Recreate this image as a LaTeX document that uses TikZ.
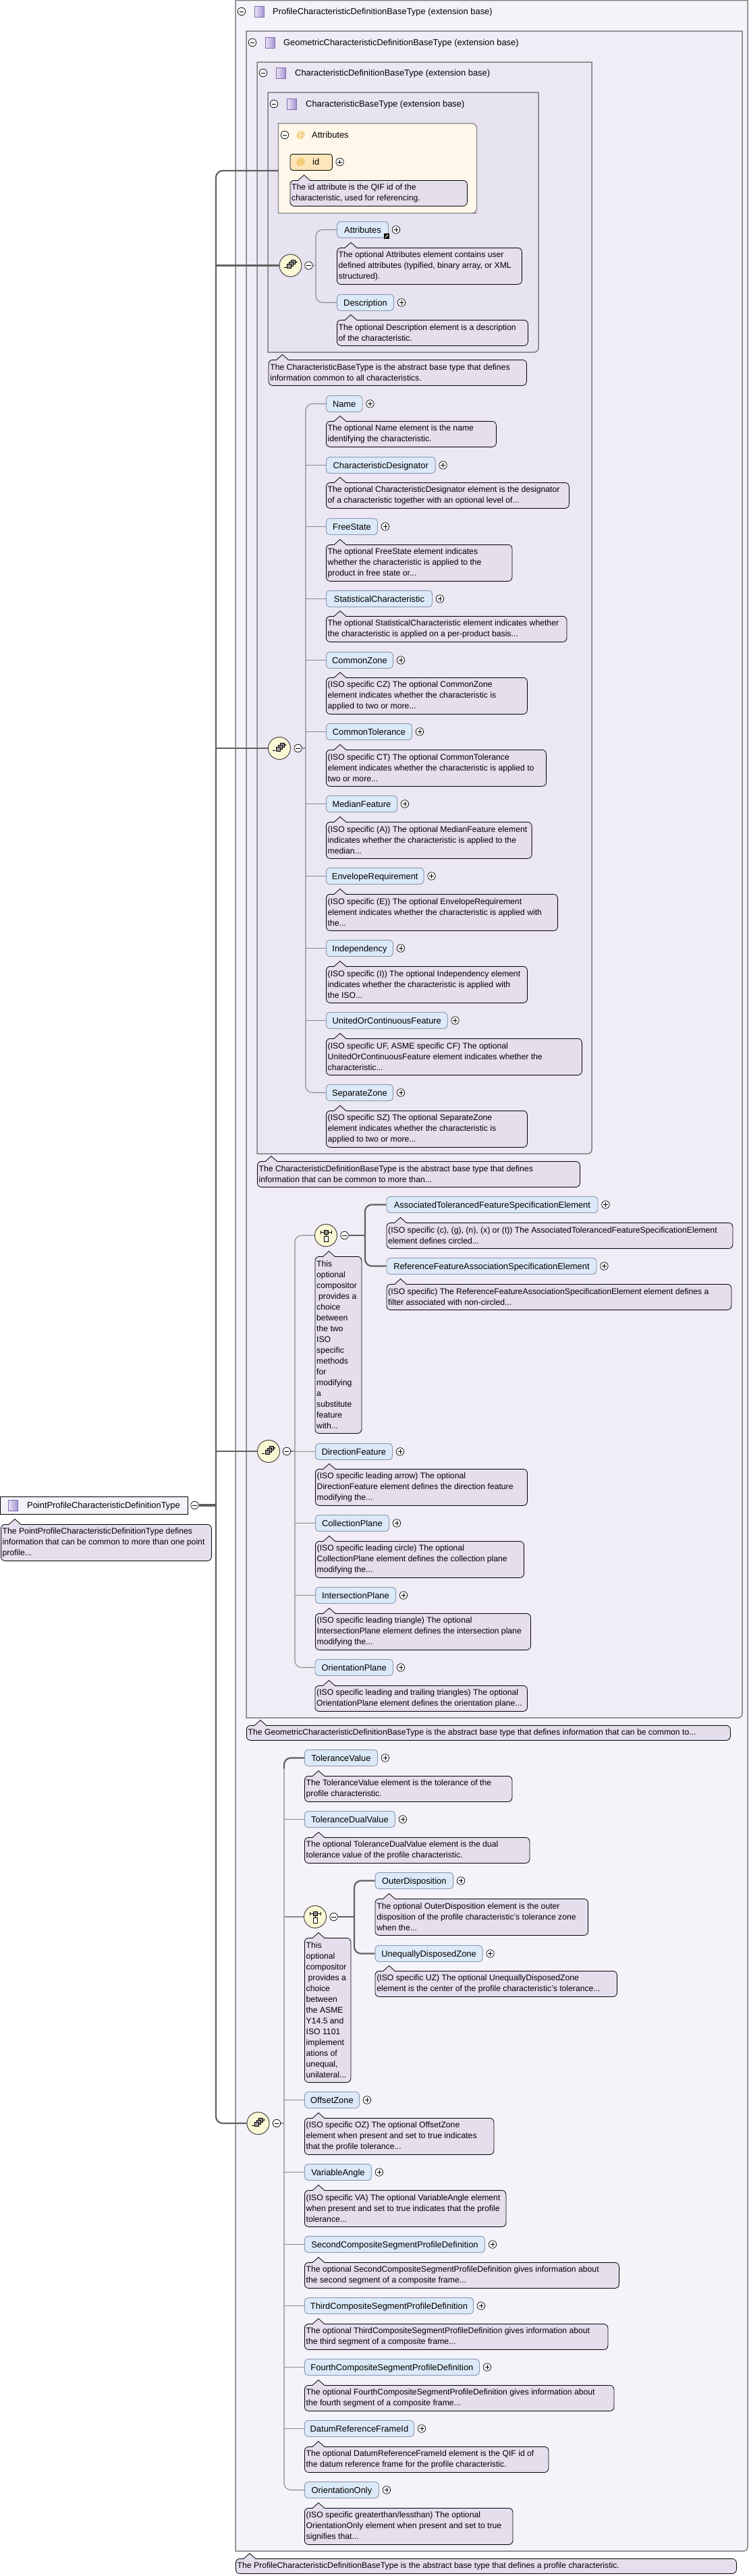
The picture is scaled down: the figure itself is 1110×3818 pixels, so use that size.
\documentclass[tikz,border=0pt]{standalone}
\usepackage{fontspec}
\setmainfont{Liberation Sans}
\usetikzlibrary{arrows.meta}
\definecolor{bgA}{HTML}{F5F3FA}
\definecolor{bgB}{HTML}{F0EDF7}
\definecolor{bgC}{HTML}{EBE7F3}
\definecolor{bgD}{HTML}{E7E3F0}
\definecolor{boxln}{HTML}{808080}
\definecolor{elfill}{HTML}{DCE9F8}
\definecolor{elln}{HTML}{8795AD}
\definecolor{docfill}{HTML}{E4DEED}
\definecolor{attrfill}{HTML}{FFF8EA}
\definecolor{idfill}{HTML}{FCE5B9}
\definecolor{atcol}{HTML}{E8A317}
\definecolor{compfill}{HTML}{FBF9D5}
\definecolor{compln}{HTML}{444444}
\definecolor{lnthin}{HTML}{8A8A8A}
\definecolor{lnthick}{HTML}{606060}
\definecolor{rootfill}{HTML}{F3F1F9}
\definecolor{icoL}{HTML}{EDE6F8}
\definecolor{icoR}{HTML}{A394D2}
\definecolor{icoln}{HTML}{7E6EAE}
\newcommand\nfont{\fontsize{12.9}{15}\selectfont}
\newcommand\dfont{\fontsize{12.2}{16}\selectfont}
\pgfdeclarelayer{bx}
\pgfdeclarelayer{ln}
\pgfsetlayers{bx,ln,main}
\tikzset{
 elem/.style={draw=elln, fill=elfill, line width=0.9pt, rounded corners=5pt, font=\nfont, inner xsep=0pt, inner ysep=0pt, minimum height=24pt, text height=9.2pt, text depth=0pt, anchor=north west},
 pls/.style={circle, draw=black, fill=white, line width=0.7pt, inner sep=0pt, minimum size=11.5pt,
   path picture={\draw[line width=0.8pt] ([xshift=-3.2pt]path picture bounding box.center) -- ([xshift=3.2pt]path picture bounding box.center) ([yshift=-3.2pt]path picture bounding box.center) -- ([yshift=3.2pt]path picture bounding box.center);}},
 mns/.style={circle, draw=black, fill=white, line width=0.7pt, inner sep=0pt, minimum size=11.5pt,
   path picture={\draw[line width=0.8pt] ([xshift=-3.2pt]path picture bounding box.center) -- ([xshift=3.2pt]path picture bounding box.center);}},
 docbox/.style={draw=black, fill=docfill, line width=0.8pt, rounded corners=6pt, inner sep=0pt, anchor=north west},
 doctext/.style={font=\dfont, align=left, inner sep=0pt, anchor=west},
 comp/.style={circle, draw=compln, fill=compfill, line width=1pt, minimum size=33pt, inner sep=0pt},
 hdr/.style={font=\nfont, anchor=west, inner sep=0pt, text height=9.2pt, text depth=0pt},
 hico/.style={draw=icoln, left color=icoL, right color=icoR, minimum width=14pt, minimum height=16pt, inner sep=0pt, line width=0.6pt},
 tbox/.style={draw=boxln, line width=1.5pt},
 lk/.style={draw=lnthin, line width=1.1pt},
 lkb/.style={draw=lnthick, line width=2.2pt},
}
\newcommand\elm[5]{\node[elem, minimum width=#4pt] (#1) at (#2,#3) {#5};
  \node[pls] (#1P) at ([xshift=11pt]#1.east) {};}
\newcommand\ptr[1]{\fill[docfill] ([xshift=12.5pt,yshift=-0.8pt]#1.north west) -- ([xshift=21pt,yshift=7.5pt]#1.north west) -- ([xshift=29.5pt,yshift=-0.8pt]#1.north west) -- cycle;
  \draw[line width=0.8pt] ([xshift=12.5pt]#1.north west) -- ([xshift=21pt,yshift=7.5pt]#1.north west) -- ([xshift=29.5pt]#1.north west);}
\newcommand\dc[6]{\pgfmathsetmacro\dmh{6+16*#5}%
  \node[docbox, minimum width=#4pt, minimum height=\dmh pt] (#1) at (#2,#3) {};
  \node[doctext] (#1t) at ([xshift=2.5pt,yshift=0.3pt]#1.west) {#6};
  \ptr{#1}}
\newcommand\tbx[5]{\filldraw[tbox, fill=#5] (#1,#2) -- (#3,#2) -- (#3,#4-8) [rounded corners=6pt] -- (#3,#4) -- (#1+8,#4) [sharp corners] -- (#1,#4) -- cycle;}
\newcommand\seqico[1]{\begin{scope}[shift={(#1.center)}, line width=0.6pt]
  \draw (-10,3) -- (-6,3);
  \draw[fill=black!40] (1,-8) rectangle (7,-2);
  \draw[fill=black!40] (-2,-5) rectangle (4,1);
  \draw[fill=black!40] (-5,-2) rectangle (1,4);
  \draw[-{Stealth[length=2.5pt,width=2.5pt]}] (7,-5) -- (10.5,-5);
 \end{scope}}
\newcommand\choico[1]{\begin{scope}[shift={(#1.center)}, line width=0.6pt]
  \draw (-8,-5) -- (8,-5); \draw (-8,-7.5) -- (-8,-2.5); \draw (8,-7.5) -- (8,-2.5);
  \draw[fill=black!45] (-3,-8) rectangle (3,-2);
  \draw (0,-2) -- (0,1.5);
  \draw[fill=white] (-3,1.5) rectangle (3,9);
 \end{scope}}
\begin{document}
\begin{tikzpicture}[x=1pt,y=-1pt]
\useasboundingbox (0,0) rectangle (1110,3818);
\begin{pgfonlayer}{bx}
\fill[white] (0,0) rectangle (1110,3818);
\tbx{349}{0.5}{1108}{3781}{bgA}
\tbx{365}{46}{1100}{2546}{bgB}
\tbx{381}{92}{877}{1710}{bgC}
\tbx{397}{137}{798}{522}{bgD}
\shade[left color=bgA, middle color=gray!65, right color=bgA] (351,32) rectangle (921,34.5);
\shade[left color=bgB, middle color=gray!65, right color=bgB] (367,78) rectangle (918,80.5);
\shade[left color=bgC, middle color=gray!65, right color=bgC] (383,124) rectangle (754,126.5);
\shade[left color=bgD, middle color=gray!65, right color=bgD] (399,170) rectangle (699,172.5);
\filldraw[draw=boxln, line width=1.2pt, fill=attrfill] (412.5,183) -- (699.6,183) [rounded corners=7pt] -- (706.6,183) -- (706.6,316) -- (699.6,316) [sharp corners] -- (412.5,316) -- cycle;
\shade[left color=attrfill, middle color=gray!55, right color=attrfill] (414,214) rectangle (632,216.5);
\end{pgfonlayer}
% headers
\node[mns] (h1m) at (358,17) {}; \node[hico] (h1i) at (384,17) {};
\node[hdr] (h1t) at (404,17) {ProfileCharacteristicDefinitionBaseType (extension base)};
\node[mns] (h2m) at (374,63) {}; \node[hico] (h2i) at (400,63) {};
\node[hdr] (h2t) at (420,63) {GeometricCharacteristicDefinitionBaseType (extension base)};
\node[mns] (h3m) at (390,108) {}; \node[hico] (h3i) at (416,108) {};
\node[hdr] (h3t) at (437,108) {CharacteristicDefinitionBaseType (extension base)};
\node[mns] (h4m) at (406,154) {}; \node[hico] (h4i) at (432,154) {};
\node[hdr] (h4t) at (453,154) {CharacteristicBaseType (extension base)};
% attribute group
\coordinate (agW) at (412.5,253);
\node[mns] (agm) at (422,200) {};
\node[hdr, text=atcol] (agat) at (439,200) {@};
\node[hdr] (agt) at (462,200) {Attributes};
\node[draw=black, fill=idfill, line width=0.8pt, rounded corners=4pt, minimum width=62.5pt, minimum height=24pt, anchor=north west, inner sep=0pt] (idN) at (429.5,228) {};
\node[hdr, text=atcol] (idat) at (439,240) {@};
\node[hdr] (idt) at (463,240) {id};
\node[pls] (idP) at (503.6,240) {};
\dc{idD}{429.5}{267}{262.5}{2}{The id attribute is the QIF id of the\\characteristic, used for referencing.}
% sequence 1
\node[comp] (s1) at (430.5,393.5) {}; \seqico{s1}
\node[mns] (s1m) at (457.5,393.5) {};
\elm{attrE}{499}{328}{76}{Attributes}
\node[draw=black, fill=black, line width=0.6pt, minimum size=7pt, inner sep=0pt] (attrRef) at (573,350) {};
\draw[white, line width=0.8pt, -{Stealth[length=2.5pt,width=2.5pt]}] ([shift={(-2.3pt,-2.3pt)}]attrRef.center) -- ([shift={(2.5pt,2.5pt)}]attrRef.center);
\dc{attrD}{499}{367}{274}{3}{The optional Attributes element contains user\\defined attributes (typified, binary array, or XML\\structured).}
\elm{descE}{499}{436}{84}{Description}
\dc{descD}{499}{474}{283}{2}{The optional Description element is a description\\of the characteristic.}
\dc{cbD}{397.6}{533}{382.4}{2}{The CharacteristicBaseType is the abstract base type that defines\\information common to all characteristics.}
% sequence 2
\node[comp] (s2) at (414,1109) {}; \seqico{s2}
\node[mns] (s2m) at (441.6,1109) {};
\elm{nmE}{483}{586}{53.5}{Name}
\dc{nmD}{483}{624}{252}{2}{The optional Name element is the name\\identifying the characteristic.}
\elm{cdE}{483}{677}{161.6}{CharacteristicDesignator}
\dc{cdD}{483}{715}{360}{2}{The optional CharacteristicDesignator element is the designator\\of a characteristic together with an optional level of...}
\elm{fsE}{483}{768}{76}{FreeState}
\dc{fsD}{483}{807}{275.5}{3}{The optional FreeState element indicates\\whether the characteristic is applied to the\\product in free state or...}
\elm{scE}{483}{875}{157}{StatisticalCharacteristic}
\dc{scD}{483}{913}{356.6}{2}{The optional StatisticalCharacteristic element indicates whether\\the characteristic is applied on a per-product basis...}
\elm{czE}{483}{966}{99}{CommonZone}
\dc{czD}{483}{1004}{298}{3}{(ISO specific CZ) The optional CommonZone\\element indicates whether the characteristic is\\applied to two or more...}
\elm{ctE}{483}{1072}{127}{CommonTolerance}
\dc{ctD}{483}{1111}{326}{3}{(ISO specific CT) The optional CommonTolerance\\element indicates whether the characteristic is applied to\\two or more...}
\elm{mfE}{483}{1179}{105}{MedianFeature}
\dc{mfD}{483}{1218}{304.7}{3}{(ISO specific (A)) The optional MedianFeature element\\indicates whether the characteristic is applied to the\\median...}
\elm{erE}{483}{1286}{144.6}{EnvelopeRequirement}
\dc{erD}{483}{1325}{343}{3}{(ISO specific (E)) The optional EnvelopeRequirement\\element indicates whether the characteristic is applied with\\the...}
\elm{inE}{483}{1393}{99}{Independency}
\dc{inD}{483}{1432}{298}{3}{(ISO specific (I)) The optional Independency element\\indicates whether the characteristic is applied with\\the ISO...}
\elm{ucE}{483}{1500}{179.6}{UnitedOrContinuousFeature}
\dc{ucD}{483}{1539}{379}{3}{(ISO specific UF, ASME specific CF) The optional\\UnitedOrContinuousFeature element indicates whether the\\characteristic...}
\elm{szE}{483}{1607}{99}{SeparateZone}
\dc{szD}{483}{1646}{298}{3}{(ISO specific SZ) The optional SeparateZone\\element indicates whether the characteristic is\\applied to two or more...}
\dc{cdfD}{381}{1721}{478}{2}{The CharacteristicDefinitionBaseType is the abstract base type that defines\\information that can be common to more than...}
% geometric: choice 1
\node[comp] (c1) at (483,1831) {}; \choico{c1}
\node[mns] (c1m) at (510.5,1831) {};
\dc{c1D}{466.5}{1862}{69}{16}{This\\optional\\compositor\\\hspace*{3pt}provides a\\choice\\between\\the two\\ISO\\specific\\methods\\for\\modifying\\a\\substitute\\feature\\with...}
\elm{atE}{572.5}{1773}{313}{AssociatedTolerancedFeatureSpecificationElement}
\dc{atD}{572.5}{1812}{513}{2}{(ISO specific (c), (g), (n), (x) or (t)) The AssociatedTolerancedFeatureSpecificationElement\\element defines circled...}
\elm{rfE}{572.5}{1864}{311}{ReferenceFeatureAssociationSpecificationElement}
\dc{rfD}{572.5}{1903}{511}{2}{(ISO specific) The ReferenceFeatureAssociationSpecificationElement element defines a\\filter associated with non-circled...}
% sequence 3
\node[comp] (s3) at (398,2151) {}; \seqico{s3}
\node[mns] (s3m) at (425,2151) {};
\elm{dfE}{467}{2139}{114}{DirectionFeature}
\dc{dfD}{467}{2177}{314}{3}{(ISO specific leading arrow) The optional\\DirectionFeature element defines the direction feature\\modifying the...}
\elm{cpE}{467}{2245}{109}{CollectionPlane}
\dc{cpD}{467}{2284}{309}{3}{(ISO specific leading circle) The optional\\CollectionPlane element defines the collection plane\\modifying the...}
\elm{ipE}{467}{2352}{119}{IntersectionPlane}
\dc{ipD}{467}{2391}{319}{3}{(ISO specific leading triangle) The optional\\IntersectionPlane element defines the intersection plane\\modifying the...}
\elm{opE}{466.5}{2459}{115.5}{OrientationPlane}
\dc{opD}{466.5}{2498}{314.5}{2}{(ISO specific leading and trailing triangles) The optional\\OrientationPlane element defines the orientation plane...}
\dc{gD}{365}{2557}{717}{1}{The GeometricCharacteristicDefinitionBaseType is the abstract base type that defines information that can be common to...}
% sequence 4
\node[comp] (s4) at (382.5,3147) {}; \seqico{s4}
\node[mns] (s4m) at (410,3147) {};
\elm{tvE}{451}{2593}{108}{ToleranceValue}
\dc{tvD}{451}{2632}{307.5}{2}{The ToleranceValue element is the tolerance of the\\profile characteristic.}
\elm{tdE}{451}{2684}{134}{ToleranceDualValue}
\dc{tdD}{451}{2723}{333.5}{2}{The optional ToleranceDualValue element is the dual\\tolerance value of the profile characteristic.}
\node[comp] (c2) at (467,2841) {}; \choico{c2}
\node[mns] (c2m) at (494.6,2841) {};
\dc{c2D}{451}{2872}{68.5}{13}{This\\optional\\compositor\\\hspace*{3pt}provides a\\choice\\between\\the ASME\\Y14.5 and\\ISO 1101\\implement\\ations of\\unequal,\\unilateral...}
\elm{odE}{555.6}{2775}{115.5}{OuterDisposition}
\dc{odD}{555.6}{2814}{315.5}{3}{The optional OuterDisposition element is the outer\\disposition of the profile characteristic's tolerance zone\\when the...}
\elm{uzE}{555.6}{2883}{159}{UnequallyDisposedZone}
\dc{uzD}{555.6}{2921}{358.5}{2}{(ISO specific UZ) The optional UnequallyDisposedZone\\element is the center of the profile characteristic's tolerance...}
\elm{ozE}{451}{3100}{81}{OffsetZone}
\dc{ozD}{451}{3139}{280.5}{3}{(ISO specific OZ) The optional OffsetZone\\element when present and set to true indicates\\that the profile tolerance...}
\elm{vaE}{451}{3207}{99}{VariableAngle}
\dc{vaD}{451}{3246}{298.5}{3}{(ISO specific VA) The optional VariableAngle element\\when present and set to true indicates that the profile\\tolerance...}
\elm{scpE}{451}{3314}{267}{SecondCompositeSegmentProfileDefinition}
\dc{scpD}{451}{3353}{466}{2}{The optional SecondCompositeSegmentProfileDefinition gives information about\\the second segment of a composite frame...}
\elm{tcpE}{451}{3405}{250}{ThirdCompositeSegmentProfileDefinition}
\dc{tcpD}{451}{3444}{449.5}{2}{The optional ThirdCompositeSegmentProfileDefinition gives information about\\the third segment of a composite frame...}
\elm{fcpE}{451}{3496}{259}{FourthCompositeSegmentProfileDefinition}
\dc{fcpD}{451}{3535}{458.5}{2}{The optional FourthCompositeSegmentProfileDefinition gives information about\\the fourth segment of a composite frame...}
\elm{drE}{451}{3587}{162}{DatumReferenceFrameId}
\dc{drD}{451}{3626}{361.6}{2}{The optional DatumReferenceFrameId element is the QIF id of\\the datum reference frame for the profile characteristic.}
\elm{ooE}{451}{3678}{110}{OrientationOnly}
\dc{ooD}{451}{3717}{308.6}{3}{(ISO specific greaterthan/lessthan) The optional\\OrientationOnly element when present and set to true\\signifies that...}
\dc{pD}{349}{3792}{742}{1}{The ProfileCharacteristicDefinitionBaseType is the abstract base type that defines a profile characteristic.}
% root
\node[draw=black, fill=rootfill, line width=0.9pt, minimum width=278pt, minimum height=26pt, anchor=north west, inner sep=0pt] (root) at (0,2218) {};
\node[hico] (rooti) at (19,2231) {};
\node[hdr] (roott) at (40,2231) {PointProfileCharacteristicDefinitionType};
\node[mns] (rootm) at (288.5,2231) {};
\dc{rootD}{1}{2259}{312}{3}{The PointProfileCharacteristicDefinitionType defines\\information that can be common to more than one point\\profile...}
% connectors
\begin{pgfonlayer}{ln}
\coordinate (mv) at (320,2231);
\draw[lkb, rounded corners=10pt] (agW) -- (agW -| mv) -- (s4 -| mv) -- (s4.west);
\draw[lkb] (s1 -| mv) -- (s1.west);
\draw[lkb] (s2 -| mv) -- (s2.west);
\draw[lkb] (s3 -| mv) -- (s3.west);
\draw[draw=lnthick, line width=3.2pt] (rootm.east) -- (mv);
\coordinate (b1) at (468,393.5);
\draw[lk] (s1m.east) -- (b1);
\draw[lk, rounded corners=10pt] (attrE.west) -- (attrE.west -| b1) -- (descE.west -| b1) -- (descE.west);
\coordinate (b2) at (453,1109);
\draw[lk] (s2m.east) -- (b2);
\draw[lk, rounded corners=10pt] (nmE.west) -- (nmE.west -| b2) -- (szE.west -| b2) -- (szE.west);
\foreach \n in {cdE,fsE,scE,czE,ctE,mfE,erE,inE,ucE} \draw[lk] (\n.west -| b2) -- (\n.west);
\coordinate (b3) at (437,2151);
\draw[lk] (s3m.east) -- (b3);
\draw[lk, rounded corners=10pt] (c1.west) -- (c1.west -| b3) -- (opE.west -| b3) -- (opE.west);
\foreach \n in {dfE,cpE,ipE} \draw[lk] (\n.west -| b3) -- (\n.west);
\coordinate (cb1) at (541,1831);
\draw[lkb] (c1m.east) -- (cb1);
\draw[lkb, rounded corners=10pt] (atE.west) -- (atE.west -| cb1) -- (rfE.west -| cb1) -- (rfE.west);
\coordinate (b4) at (421,3147);
\draw[lk] (s4m.east) -- (b4);
\draw[lk, rounded corners=10pt] (tvE.west) -- (tvE.west -| b4) -- (ooE.west -| b4) -- (ooE.west);
\foreach \n in {tdE,ozE,vaE,scpE,tcpE,fcpE,drE} \draw[lk] (\n.west -| b4) -- (\n.west);
\draw[lk] (c2.west -| b4) -- (c2.west);
\draw[lkb, rounded corners=10pt] (tvE.west) -- (tvE.west -| b4) -- ++(0,16);
\coordinate (cb2) at (525,2841);
\draw[lkb] (c2m.east) -- (cb2);
\draw[lkb, rounded corners=10pt] (odE.west) -- (odE.west -| cb2) -- (uzE.west -| cb2) -- (uzE.west);
\end{pgfonlayer}
\end{tikzpicture}
\end{document}
